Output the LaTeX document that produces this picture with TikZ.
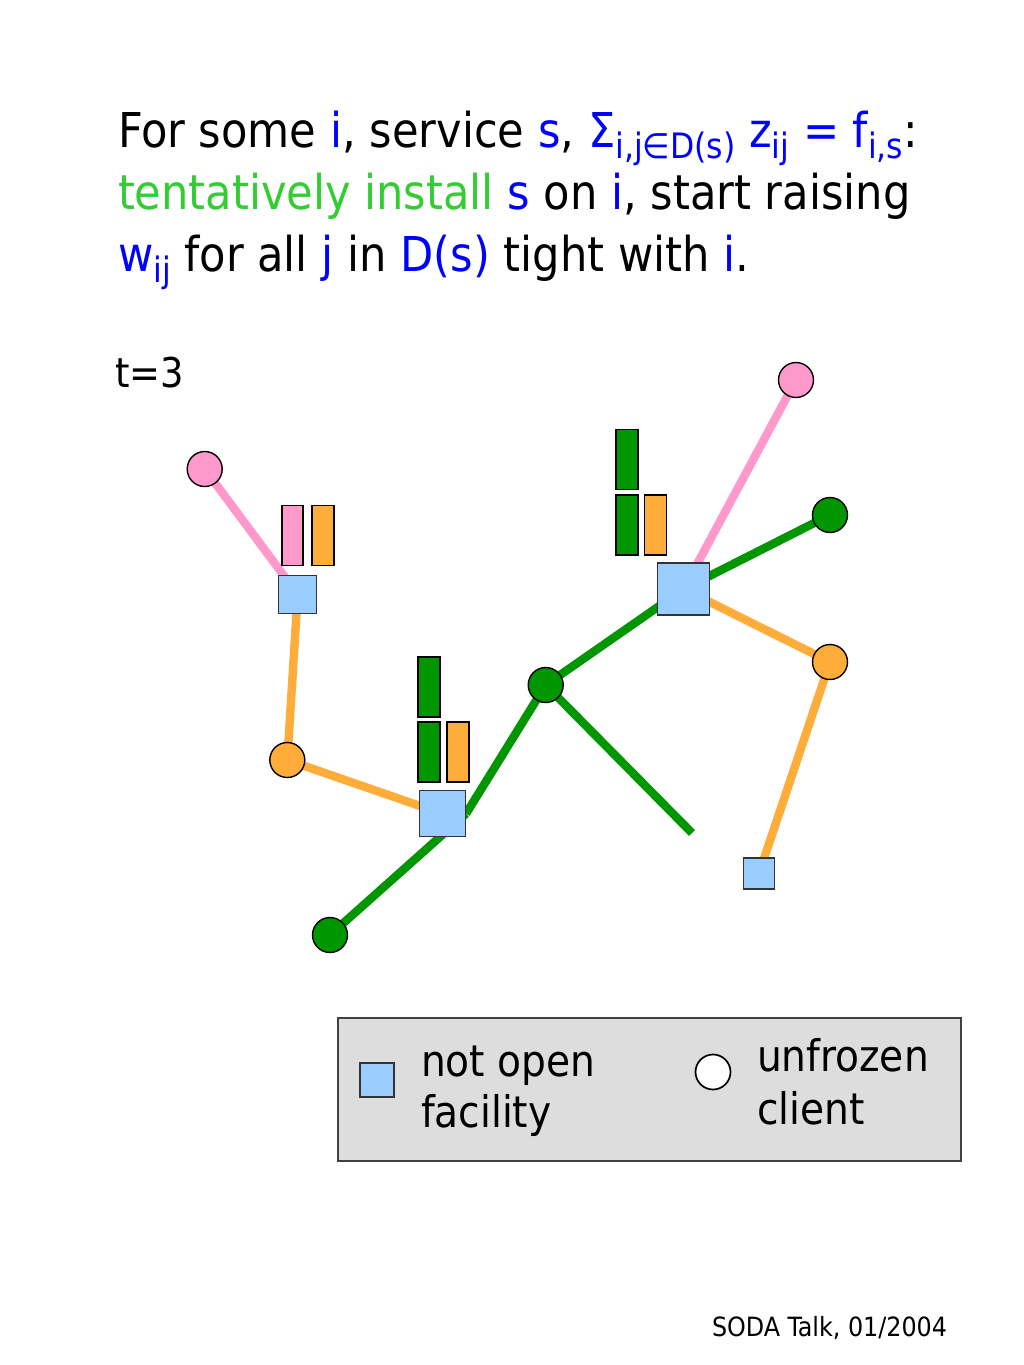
\documentclass[tikz,border=0pt]{standalone}
\usepackage{fontspec}
\setmainfont{DejaVu Sans Condensed}
\usetikzlibrary{backgrounds}
\definecolor{tblue}{RGB}{0,0,255}
\definecolor{tgreen}{RGB}{51,204,51}
\definecolor{facfill}{RGB}{153,204,255}
\definecolor{corange}{RGB}{255,173,58}
\definecolor{cpink}{RGB}{255,153,204}
\definecolor{cgreen}{RGB}{0,150,0}
\definecolor{legfill}{RGB}{221,221,221}
\newcommand\bl[1]{\textcolor{tblue}{#1}}
\newcommand\sbs[1]{\raisebox{-0.24em}{\fontsize{35}{35}\selectfont #1}}
\begin{document}
\begin{tikzpicture}[x=1pt,y=-1pt,
  txt/.style={anchor=base west, inner sep=0pt, outer sep=0pt},
  big/.style={txt, font=\fontsize{48}{58}\selectfont},
  leg/.style={txt, font=\fontsize{43.5}{52}\selectfont},
  fac/.style={rectangle, draw=black!80, line width=1.4pt, fill=facfill, inner sep=0pt, minimum size=#1},
  cli/.style={circle, draw=black, line width=1.4pt, inner sep=0pt, minimum size=35, fill=#1},
  bar/.style={rectangle, draw=black, line width=1.4pt, inner sep=0pt, minimum width=22, minimum height=60, fill=#1},
  edge/.style={line width=8.4pt, draw=#1}]
\useasboundingbox (0,0) rectangle (1024,1365);

% heading
\node[big] (l1) at (118,147) {For some \bl{i}, service \bl{s}, \bl{Σ\sbs{i,j∈D(s)} z\sbs{ij} = f\sbs{i,s}}:};
\node[big] (l2) at (118,209) {\textcolor{tgreen}{tentatively install} \bl{s} on \bl{i}, start raising};
\node[big] (l3) at (118,271) {\bl{w\sbs{ij}} for all \bl{j} in \bl{D(s)} tight with \bl{i}.};
\node[txt, font=\fontsize{41}{48}\selectfont] (t) at (115,387) {t=3};

% bars
\node[bar=cpink, minimum width=21] (b1) at (292.5,535.5) {};
\node[bar=corange] (b2) at (323,535.5) {};
\node[bar=cgreen] (b3) at (429,687) {};
\node[bar=cgreen] (b4) at (429,752) {};
\node[bar=corange] (b5) at (458,752) {};
\node[bar=cgreen] (b6) at (627,459.5) {};
\node[bar=cgreen] (b7) at (627,525) {};
\node[bar=corange] (b8) at (655.5,525) {};

% facilities
\node[fac=38] (f1) at (297.7,594.3) {};
\node[fac=46] (f2) at (442.3,813.7) {};
\node[fac=52] (f3) at (683.7,589) {};
\node[fac=31] (f4) at (759,873.5) {};

% clients
\node[cli=cpink] (c1) at (204.7,469) {};
\node[cli=corange] (c2) at (287.3,760) {};
\node[cli=cgreen] (c3) at (330,935) {};
\node[cli=cgreen] (c4) at (545.7,685) {};
\node[cli=cpink] (c5) at (796,380) {};
\node[cli=cgreen] (c6) at (830,515) {};
\node[cli=corange] (c7) at (830,662) {};
\coordinate (e1) at (692,833);

\begin{pgfonlayer}{background}
\draw[edge=cpink] (c1.center) -- (f1.center);
\draw[edge=cpink] (c5.center) -- (f3.center);
\draw[edge=corange] (f1.center) -- (c2.center) -- (f2.center);
\draw[edge=corange] (f3.center) -- (c7.center) -- (f4.center);
\draw[edge=cgreen] (c3.center) -- (f2.east);
\draw[edge=cgreen] (c4.center) -- (f2.east);
\draw[edge=cgreen] (c4.center) -- (f3.center) -- (c6.center);
\draw[edge=cgreen] (c4.center) -- (e1);
\end{pgfonlayer}

% legend
\node[rectangle, draw=black!75, line width=1.3pt, fill=legfill, inner sep=0pt, minimum width=623, minimum height=143] (legbox) at (649.5,1089.5) {};
\node[fac=34] (lf) at (377,1080) {};
\node[cli=white, line width=1.7pt] (lc) at (713,1072) {};
\node[leg] (lt1) at (421,1076) {not open};
\node[leg] (lt2) at (421,1127) {facility};
\node[leg] (lt3) at (757,1071) {unfrozen};
\node[leg] (lt4) at (757,1124) {client};

\node[txt, font=\fontsize{26.5}{31}\selectfont] (foot) at (712,1336) {SODA Talk, 01/2004};
\end{tikzpicture}
\end{document}
